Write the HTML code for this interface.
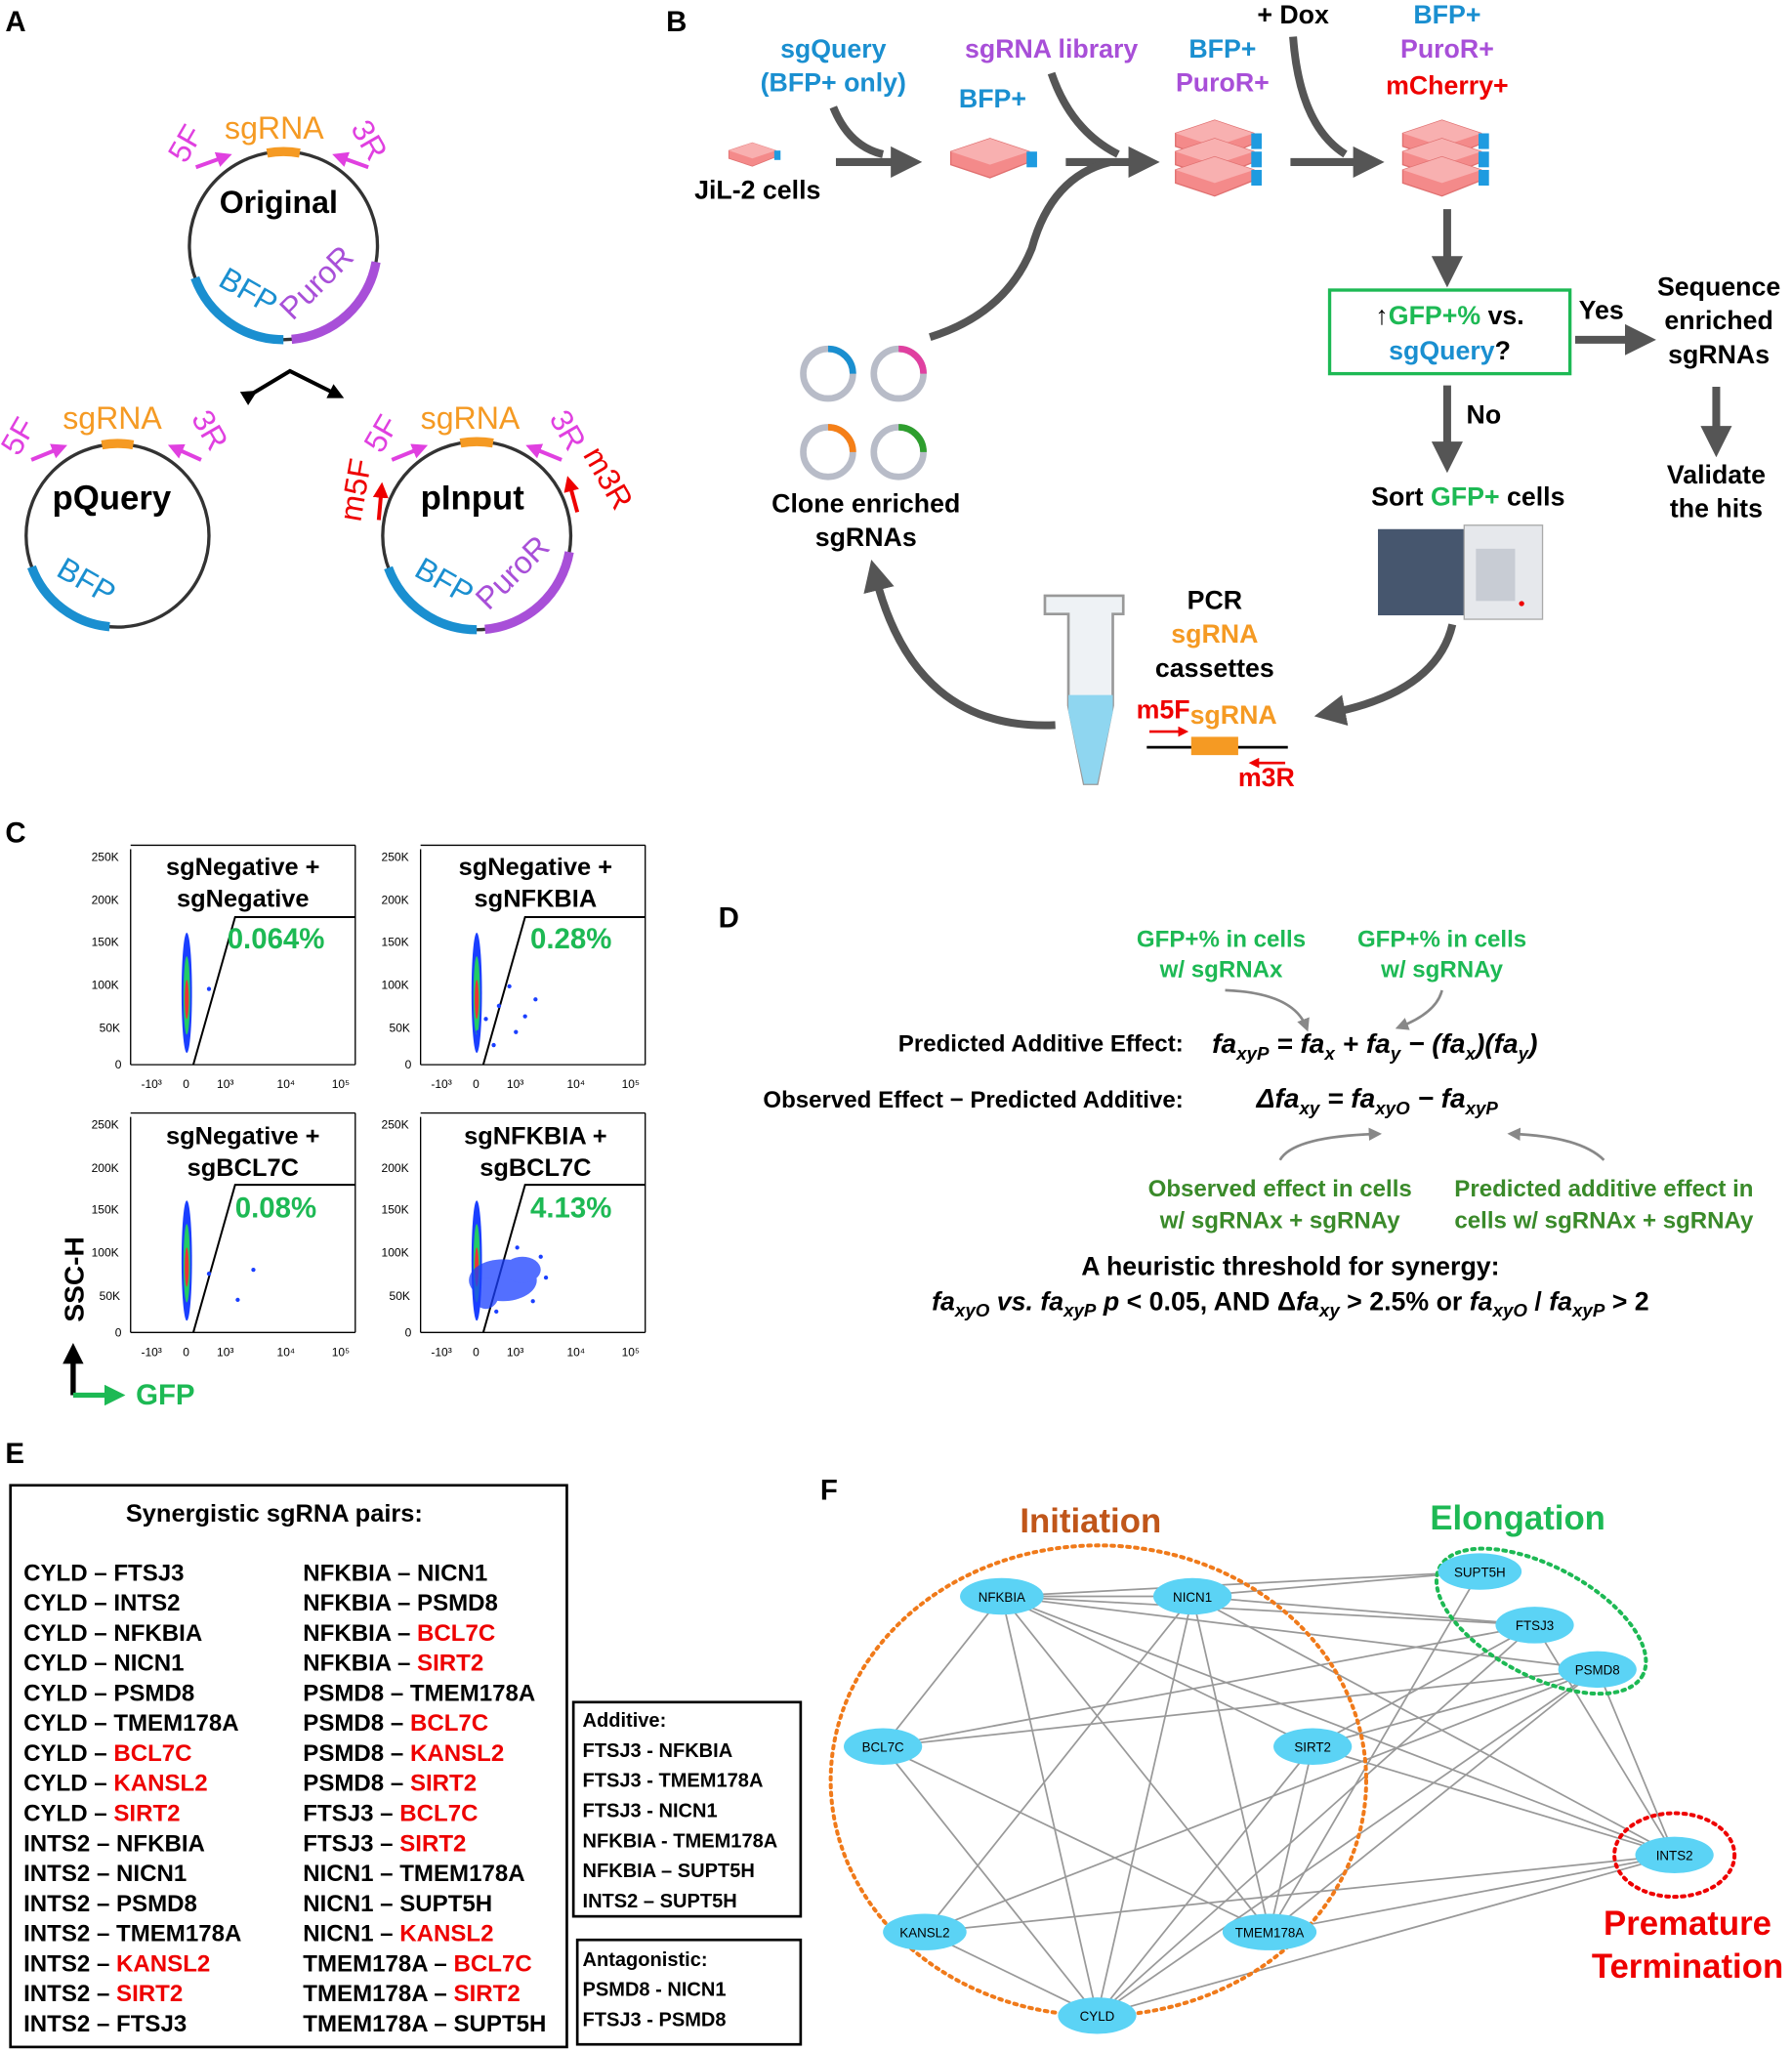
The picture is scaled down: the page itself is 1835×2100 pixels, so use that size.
<!DOCTYPE html>
<html><head><meta charset="utf-8"><style>
html,body{margin:0;padding:0;background:#fff}
svg{display:block}
text{font-family:"Liberation Sans",sans-serif;font-weight:bold}
</style></head><body>
<svg width="1835" height="2100" viewBox="0 0 1372 1570" xmlns="http://www.w3.org/2000/svg">
<defs>
<marker id="ag" markerWidth="4" markerHeight="4" refX="2" refY="2" orient="auto" markerUnits="strokeWidth"><path d="M0,0 L4,2 L0,4 z" fill="#555"/></marker>
<marker id="ak" markerWidth="4" markerHeight="4" refX="2" refY="2" orient="auto" markerUnits="strokeWidth"><path d="M0,0 L4,2 L0,4 z" fill="#000"/></marker>
<marker id="am" markerWidth="4" markerHeight="4" refX="2" refY="2" orient="auto" markerUnits="strokeWidth"><path d="M0,0 L4,2 L0,4 z" fill="#e040e0"/></marker>
<marker id="ar" markerWidth="4" markerHeight="4" refX="2" refY="2" orient="auto" markerUnits="strokeWidth"><path d="M0,0 L4,2 L0,4 z" fill="#e00"/></marker>
<marker id="agy" markerWidth="5" markerHeight="5" refX="3" refY="2.5" orient="auto" markerUnits="strokeWidth"><path d="M0,0 L5,2.5 L0,5 z" fill="#888"/></marker>
<marker id="agr" markerWidth="4" markerHeight="4" refX="2" refY="2" orient="auto" markerUnits="strokeWidth"><path d="M0,0 L4,2 L0,4 z" fill="#1db954"/></marker>
<g id="flask"><path d="M0,12 L30,2 L60,12 L60,20 L30,32 L0,22 z" fill="#f48a8a" stroke="#e07070" stroke-width="1"/><path d="M0,12 L30,2 L60,12 L30,22 z" fill="#f8b0b0"/><rect x="58" y="12" width="8" height="12" fill="#1e9be0"/></g>
<g id="flask3"><use href="#flask" y="0"/><use href="#flask" y="14"/><use href="#flask" y="28"/></g>
</defs>

<g font-size="22" fill="#000">
<text x="4" y="24">A</text><text x="510" y="24">B</text><text x="4" y="645">C</text>
<text x="550" y="710">D</text><text x="4" y="1120">E</text><text x="628" y="1148">F</text>
</g>

<!-- PANEL A -->
<g fill="none" stroke-width="2.5">
<circle cx="217" cy="188" r="72" stroke="#333"/>
<path d="M149.3,212.6 A72,72 0 0 0 217,260" stroke="#1a8fd0" stroke-width="7"/>
<path d="M223.3,259.7 A72,72 0 0 0 287.9,200.5" stroke="#a84fd8" stroke-width="7"/>
<path d="M204.5,117.1 A72,72 0 0 1 229.5,117.1" stroke="#f59a23" stroke-width="7"/>
<circle cx="90" cy="410" r="70" stroke="#333"/>
<path d="M24.2,433.9 A70,70 0 0 0 83.9,479.7" stroke="#1a8fd0" stroke-width="7"/>
<path d="M78,340.5 A70,70 0 0 1 102,340.5" stroke="#f59a23" stroke-width="7"/>
<circle cx="365" cy="410" r="72" stroke="#333"/>
<path d="M297.3,434.6 A72,72 0 0 0 365,482" stroke="#1a8fd0" stroke-width="7"/>
<path d="M371.3,481.7 A72,72 0 0 0 435.9,422.5" stroke="#a84fd8" stroke-width="7"/>
<path d="M352.5,339.1 A72,72 0 0 1 377.5,339.1" stroke="#f59a23" stroke-width="7"/>
</g>
<g stroke="#e040e0" stroke-width="3" fill="none">
<line x1="150" y1="128" x2="172" y2="120" marker-end="url(#am)"/>
<line x1="282" y1="128" x2="260" y2="120" marker-end="url(#am)"/>
<line x1="24" y1="352" x2="46" y2="343" marker-end="url(#am)"/>
<line x1="154" y1="352" x2="134" y2="343" marker-end="url(#am)"/>
<line x1="300" y1="352" x2="322" y2="343" marker-end="url(#am)"/>
<line x1="430" y1="352" x2="408" y2="343" marker-end="url(#am)"/>
</g>
<g stroke="#e00" stroke-width="3"><line x1="290" y1="398" x2="292" y2="375" marker-end="url(#ar)"/><line x1="442" y1="392" x2="436" y2="370" marker-end="url(#ar)"/></g>
<g font-size="24">
<text x="172" y="106" fill="#f59a23" style="font-weight:normal">sgRNA</text>
<text x="48" y="328" fill="#f59a23" style="font-weight:normal">sgRNA</text>
<text x="322" y="328" fill="#f59a23" style="font-weight:normal">sgRNA</text>
<text transform="translate(142,126) rotate(-60)" fill="#e040e0" style="font-weight:normal">5F</text>
<text transform="translate(268,98) rotate(60)" fill="#e040e0" style="font-weight:normal">3R</text>
<text transform="translate(14,350) rotate(-60)" fill="#e040e0" style="font-weight:normal">5F</text>
<text transform="translate(146,320) rotate(60)" fill="#e040e0" style="font-weight:normal">3R</text>
<text transform="translate(292,348) rotate(-60)" fill="#e040e0" style="font-weight:normal">5F</text>
<text transform="translate(420,320) rotate(60)" fill="#e040e0" style="font-weight:normal">3R</text>
<text transform="translate(276,400) rotate(-80)" fill="#e00" style="font-weight:normal">m5F</text>
<text transform="translate(446,348) rotate(60)" fill="#e00" style="font-weight:normal">m3R</text>
<text transform="translate(166,218) rotate(30)" fill="#1a8fd0" style="font-weight:normal">BFP</text>
<text transform="translate(224,246) rotate(-45)" fill="#a84fd8" style="font-weight:normal">PuroR</text>
<text transform="translate(42,440) rotate(30)" fill="#1a8fd0" style="font-weight:normal">BFP</text>
<text transform="translate(316,440) rotate(30)" fill="#1a8fd0" style="font-weight:normal">BFP</text>
<text transform="translate(374,468) rotate(-45)" fill="#a84fd8" style="font-weight:normal">PuroR</text>
</g>
<text x="168" y="163" font-size="24">Original</text>
<text x="40" y="390" font-size="26">pQuery</text>
<text x="322" y="390" font-size="26">pInput</text>
<path d="M192,302 L222,284 L258,302" fill="none" stroke="#000" stroke-width="3" marker-start="url(#ak)" marker-end="url(#ak)"/>

<!-- PANEL B -->
<g font-size="20" text-anchor="middle">
<text x="580" y="152">JiL-2 cells</text>
<text x="638" y="44" fill="#1a8fd0">sgQuery</text><text x="638" y="70" fill="#1a8fd0">(BFP+ only)</text>
<text x="760" y="82" fill="#1a8fd0">BFP+</text>
<text x="805" y="44" fill="#a84fd8">sgRNA library</text>
<text x="936" y="44" fill="#1a8fd0">BFP+</text><text x="936" y="70" fill="#a84fd8">PuroR+</text>
<text x="990" y="18">+ Dox</text>
<text x="1108" y="18" fill="#1a8fd0">BFP+</text><text x="1108" y="44" fill="#a84fd8">PuroR+</text><text x="1108" y="72" fill="#e00">mCherry+</text>
<text x="1316" y="226">Sequence</text><text x="1316" y="252">enriched</text><text x="1316" y="278">sgRNAs</text>
<text x="1226" y="244">Yes</text>
<text x="1136" y="324">No</text>
<text x="1314" y="370">Validate</text><text x="1314" y="396">the hits</text>
<text x="1124" y="387">Sort <tspan fill="#1db954">GFP+</tspan> cells</text>
<text x="663" y="392">Clone enriched</text><text x="663" y="418">sgRNAs</text>
<text x="930" y="466">PCR</text><text x="930" y="492" fill="#f59a23">sgRNA</text><text x="930" y="518">cassettes</text>
</g>
<use href="#flask" transform="translate(558,108) scale(0.6)"/>
<use href="#flask" x="728" y="104"/>
<use href="#flask3" x="900" y="90"/>
<use href="#flask3" x="1074" y="90"/>
<g stroke="#555" stroke-width="6" fill="none">
<line x1="640" y1="124" x2="694" y2="124" marker-end="url(#ag)"/>
<path d="M638,82 Q650,112 676,118"/>
<line x1="816" y1="124" x2="876" y2="124" marker-end="url(#ag)"/>
<path d="M805,56 Q820,100 856,118"/>
<line x1="988" y1="124" x2="1048" y2="124" marker-end="url(#ag)"/>
<path d="M990,28 Q995,96 1030,118"/>
<path d="M712,258 Q770,240 790,190 Q805,135 850,124"/>
<line x1="1108" y1="160" x2="1108" y2="208" marker-end="url(#ag)"/>
<line x1="1206" y1="260" x2="1256" y2="260" marker-end="url(#ag)"/>
<line x1="1108" y1="295" x2="1108" y2="350" marker-end="url(#ag)"/>
<line x1="1314" y1="296" x2="1314" y2="338" marker-end="url(#ag)"/>
<path d="M1112,478 Q1100,530 1018,546" marker-end="url(#ag)"/>
<path d="M808,555 Q700,560 670,440" marker-end="url(#ag)"/>
</g>
<rect x="1018" y="222" width="184" height="64" fill="#fff" stroke="#1db954" stroke-width="2.5"/>
<text x="1110" y="248" font-size="20" text-anchor="middle">↑<tspan fill="#1db954">GFP+%</tspan> vs.</text>
<text x="1110" y="275" font-size="20" text-anchor="middle" fill="#1a8fd0">sgQuery<tspan fill="#000">?</tspan></text>
<g fill="none" stroke-width="5">
<circle cx="634" cy="286" r="19" stroke="#b8bcc8"/><path d="M634,267 A19,19 0 0 1 653,286" stroke="#1a8fd0"/>
<circle cx="688" cy="286" r="19" stroke="#b8bcc8"/><path d="M688,267 A19,19 0 0 1 707,286" stroke="#e040a0"/>
<circle cx="634" cy="346" r="19" stroke="#b8bcc8"/><path d="M634,327 A19,19 0 0 1 653,346" stroke="#f57f17"/>
<circle cx="688" cy="346" r="19" stroke="#b8bcc8"/><path d="M688,327 A19,19 0 0 1 707,346" stroke="#2e9e2e"/>
</g>
<rect x="1055" y="405" width="66" height="66" fill="#46566e"/>
<rect x="1121" y="402" width="60" height="72" fill="#e6e8ec" stroke="#aaa"/>
<rect x="1130" y="420" width="30" height="40" fill="#c8ccd4"/>
<circle cx="1165" cy="462" r="2" fill="#e00"/>
<path d="M800,456 L860,456 L860,470 L852,470 L852,540 L840,600 L830,600 L818,540 L818,470 L800,470 z" fill="#eef2f5" stroke="#999" stroke-width="2"/>
<path d="M818,532 L852,532 L852,545 L840,600 L830,600 L818,545 z" fill="#8fd6f0"/>
<line x1="878" y1="572" x2="986" y2="572" stroke="#000" stroke-width="2"/>
<rect x="912" y="564" width="36" height="14" fill="#f59a23"/>
<text x="870" y="550" font-size="20" fill="#e00">m5F<tspan fill="#f59a23" dy="4">sgRNA</tspan></text>
<text x="948" y="602" font-size="20" fill="#e00">m3R</text>
<line x1="880" y1="560" x2="906" y2="560" stroke="#e00" stroke-width="2" marker-end="url(#ar)"/>
<line x1="984" y1="584" x2="960" y2="584" stroke="#e00" stroke-width="2" marker-end="url(#ar)"/>

<!-- PANEL C -->
<g font-size="9" fill="#000">
<g id="p1">
<line x1="100" y1="650" x2="100" y2="815" stroke="#000"/><line x1="100" y1="815" x2="272" y2="815" stroke="#000"/>
<line x1="272" y1="647" x2="272" y2="815" stroke="#000"/><line x1="100" y1="647" x2="272" y2="647" stroke="#000"/>
<text x="70" y="659" style="font-weight:normal">250K</text><text x="70" y="692" style="font-weight:normal">200K</text><text x="70" y="724" style="font-weight:normal">150K</text><text x="70" y="757" style="font-weight:normal">100K</text><text x="76" y="790" style="font-weight:normal">50K</text><text x="88" y="818" style="font-weight:normal">0</text>
<text x="108" y="833" style="font-weight:normal">-10³</text><text x="140" y="833" style="font-weight:normal">0</text><text x="166" y="833" style="font-weight:normal">10³</text><text x="212" y="833" style="font-weight:normal">10⁴</text><text x="254" y="833" style="font-weight:normal">10⁵</text>
<polyline points="148,815 180,702 272,702" fill="none" stroke="#000" stroke-width="1.5"/>
<ellipse cx="143" cy="760" rx="4" ry="46" fill="#1a3fff"/>
<ellipse cx="143" cy="762" rx="2.5" ry="30" fill="#22cc66"/>
<ellipse cx="143" cy="765" rx="1.5" ry="15" fill="#e33"/>
</g>
<use href="#p1" x="222"/>
<use href="#p1" y="205"/>
<use href="#p1" x="222" y="205"/>
</g>
<g fill="#1a3fff"><circle cx="160" cy="757" r="1.6"/>
<circle cx="372" cy="780" r="1.6"/><circle cx="382" cy="770" r="1.6"/><circle cx="395" cy="790" r="1.6"/><circle cx="410" cy="765" r="1.6"/><circle cx="390" cy="755" r="1.6"/><circle cx="378" cy="800" r="1.6"/><circle cx="366" cy="790" r="1.6"/><circle cx="402" cy="778" r="1.6"/>
<circle cx="160" cy="975" r="1.6"/><circle cx="182" cy="995" r="1.6"/><circle cx="194" cy="972" r="1.6"/>
</g>
<g fill="#1a3fff" opacity="0.75">
<ellipse cx="385" cy="980" rx="26" ry="16"/>
<ellipse cx="400" cy="972" rx="14" ry="10"/>
<ellipse cx="372" cy="990" rx="10" ry="12"/>
</g>
<g fill="#1a3fff"><circle cx="414" cy="962" r="1.6"/><circle cx="408" cy="996" r="1.6"/><circle cx="380" cy="1004" r="1.6"/><circle cx="418" cy="978" r="1.6"/><circle cx="396" cy="955" r="1.6"/></g>
<g font-size="19" text-anchor="middle">
<text x="186" y="670">sgNegative +</text><text x="186" y="694">sgNegative</text>
<text x="410" y="670">sgNegative +</text><text x="410" y="694">sgNFKBIA</text>
<text x="186" y="876">sgNegative +</text><text x="186" y="900">sgBCL7C</text>
<text x="410" y="876">sgNFKBIA +</text><text x="410" y="900">sgBCL7C</text>
</g>
<g font-size="22" fill="#1db954">
<text x="174" y="726">0.064%</text><text x="406" y="726">0.28%</text>
<text x="180" y="932">0.08%</text><text x="406" y="932">4.13%</text>
</g>
<text transform="translate(64,1012) rotate(-90)" font-size="21">SSC-H</text>
<line x1="56" y1="1068" x2="56" y2="1036" stroke="#000" stroke-width="4" marker-end="url(#ak)"/>
<line x1="56" y1="1068" x2="88" y2="1068" stroke="#1db954" stroke-width="4" marker-end="url(#agr)"/>
<text x="104" y="1075" font-size="22" fill="#1db954">GFP</text>

<!-- PANEL D -->
<g font-size="18" text-anchor="middle" fill="#1db954">
<text x="935" y="725">GFP+% in cells</text><text x="935" y="748">w/ sgRNAx</text>
<text x="1104" y="725">GFP+% in cells</text><text x="1104" y="748">w/ sgRNAy</text>
</g>
<g font-size="18" text-anchor="middle" fill="#3a8a2a">
<text x="980" y="916">Observed effect in cells</text><text x="980" y="940">w/ sgRNAx + sgRNAy</text>
<text x="1228" y="916">Predicted additive effect in</text><text x="1228" y="940">cells w/ sgRNAx + sgRNAy</text>
</g>
<g fill="none" stroke="#888" stroke-width="2">
<path d="M938,758 Q990,760 1000,786" marker-end="url(#agy)"/>
<path d="M1104,758 Q1100,775 1072,786" marker-end="url(#agy)"/>
<path d="M980,888 Q990,870 1054,868" marker-end="url(#agy)"/>
<path d="M1228,888 Q1210,870 1158,868" marker-end="url(#agy)"/>
</g>
<text x="906" y="805" font-size="18" text-anchor="end">Predicted Additive Effect:</text>
<text x="906" y="848" font-size="18" text-anchor="end">Observed Effect − Predicted Additive:</text>
<text x="928" y="806" font-size="21" font-style="italic">fa<tspan font-size="14" dy="5">xyP</tspan><tspan dy="-5"> = fa</tspan><tspan font-size="14" dy="5">x</tspan><tspan dy="-5"> + fa</tspan><tspan font-size="14" dy="5">y</tspan><tspan dy="-5"> − (fa</tspan><tspan font-size="14" dy="5">x</tspan><tspan dy="-5">)(fa</tspan><tspan font-size="14" dy="5">y</tspan><tspan dy="-5">)</tspan></text>
<text x="962" y="848" font-size="21" font-style="italic">Δfa<tspan font-size="14" dy="5">xy</tspan><tspan dy="-5"> = fa</tspan><tspan font-size="14" dy="5">xyO</tspan><tspan dy="-5"> − fa</tspan><tspan font-size="14" dy="5">xyP</tspan></text>
<text x="988" y="976" font-size="20" text-anchor="middle">A heuristic threshold for synergy:</text>
<text x="988" y="1003" font-size="20" text-anchor="middle"><tspan font-style="italic">fa</tspan><tspan font-size="14" dy="5" font-style="italic">xyO</tspan><tspan dy="-5" font-style="italic"> vs. fa</tspan><tspan font-size="14" dy="5" font-style="italic">xyP</tspan><tspan dy="-5"> </tspan><tspan font-style="italic">p</tspan> &lt; 0.05, AND Δ<tspan font-style="italic">fa</tspan><tspan font-size="14" dy="5" font-style="italic">xy</tspan><tspan dy="-5"> &gt; 2.5% or </tspan><tspan font-style="italic">fa</tspan><tspan font-size="14" dy="5" font-style="italic">xyO</tspan><tspan dy="-5"> / </tspan><tspan font-style="italic">fa</tspan><tspan font-size="14" dy="5" font-style="italic">xyP</tspan><tspan dy="-5"> &gt; 2</tspan></text>

<!-- PANEL E -->
<rect x="8" y="1137" width="426" height="430" fill="none" stroke="#000" stroke-width="2"/>
<rect x="439" y="1303" width="174" height="164" fill="none" stroke="#000" stroke-width="2"/>
<rect x="442" y="1485" width="171" height="80" fill="none" stroke="#000" stroke-width="2"/>
<text x="210" y="1165" font-size="19" text-anchor="middle">Synergistic sgRNA pairs:</text>
<g font-size="18">
<text x="18" y="1210">CYLD – FTSJ3</text>
<text x="18" y="1233">CYLD – INTS2</text>
<text x="18" y="1256">CYLD – NFKBIA</text>
<text x="18" y="1279">CYLD – NICN1</text>
<text x="18" y="1302">CYLD – PSMD8</text>
<text x="18" y="1325">CYLD – TMEM178A</text>
<text x="18" y="1348">CYLD – <tspan fill="#e00">BCL7C</tspan></text>
<text x="18" y="1371">CYLD – <tspan fill="#e00">KANSL2</tspan></text>
<text x="18" y="1394">CYLD – <tspan fill="#e00">SIRT2</tspan></text>
<text x="18" y="1417">INTS2 – NFKBIA</text>
<text x="18" y="1440">INTS2 – NICN1</text>
<text x="18" y="1463">INTS2 – PSMD8</text>
<text x="18" y="1486">INTS2 – TMEM178A</text>
<text x="18" y="1509">INTS2 – <tspan fill="#e00">KANSL2</tspan></text>
<text x="18" y="1532">INTS2 – <tspan fill="#e00">SIRT2</tspan></text>
<text x="18" y="1555">INTS2 – FTSJ3</text>
<text x="232" y="1210">NFKBIA – NICN1</text>
<text x="232" y="1233">NFKBIA – PSMD8</text>
<text x="232" y="1256">NFKBIA – <tspan fill="#e00">BCL7C</tspan></text>
<text x="232" y="1279">NFKBIA – <tspan fill="#e00">SIRT2</tspan></text>
<text x="232" y="1302">PSMD8 – TMEM178A</text>
<text x="232" y="1325">PSMD8 – <tspan fill="#e00">BCL7C</tspan></text>
<text x="232" y="1348">PSMD8 – <tspan fill="#e00">KANSL2</tspan></text>
<text x="232" y="1371">PSMD8 – <tspan fill="#e00">SIRT2</tspan></text>
<text x="232" y="1394">FTSJ3 – <tspan fill="#e00">BCL7C</tspan></text>
<text x="232" y="1417">FTSJ3 – <tspan fill="#e00">SIRT2</tspan></text>
<text x="232" y="1440">NICN1 – TMEM178A</text>
<text x="232" y="1463">NICN1 – SUPT5H</text>
<text x="232" y="1486">NICN1 – <tspan fill="#e00">KANSL2</tspan></text>
<text x="232" y="1509">TMEM178A – <tspan fill="#e00">BCL7C</tspan></text>
<text x="232" y="1532">TMEM178A – <tspan fill="#e00">SIRT2</tspan></text>
<text x="232" y="1555">TMEM178A – SUPT5H</text>
</g>
<g font-size="15">
<text x="446" y="1322">Additive:</text>
<text x="446" y="1345">FTSJ3 - NFKBIA</text>
<text x="446" y="1368">FTSJ3 - TMEM178A</text>
<text x="446" y="1391">FTSJ3 - NICN1</text>
<text x="446" y="1414">NFKBIA - TMEM178A</text>
<text x="446" y="1437">NFKBIA – SUPT5H</text>
<text x="446" y="1460">INTS2 – SUPT5H</text>
<text x="446" y="1505">Antagonistic:</text>
<text x="446" y="1528">PSMD8 - NICN1</text>
<text x="446" y="1551">FTSJ3 - PSMD8</text>
</g>

<!-- PANEL F -->
<g stroke="#999" stroke-width="1.3">
<line x1="767" y1="1222" x2="913" y2="1222"/><line x1="767" y1="1222" x2="1223" y2="1278"/><line x1="767" y1="1222" x2="676" y2="1337"/><line x1="767" y1="1222" x2="1005" y2="1337"/><line x1="767" y1="1222" x2="1282" y2="1420"/><line x1="767" y1="1222" x2="840" y2="1543"/><line x1="767" y1="1222" x2="972" y2="1479"/><line x1="767" y1="1222" x2="1133" y2="1203"/><line x1="767" y1="1222" x2="1175" y2="1244"/>
<line x1="913" y1="1222" x2="1133" y2="1203"/><line x1="913" y1="1222" x2="708" y2="1479"/><line x1="913" y1="1222" x2="972" y2="1479"/><line x1="913" y1="1222" x2="840" y2="1543"/><line x1="913" y1="1222" x2="1282" y2="1420"/><line x1="913" y1="1222" x2="1175" y2="1244"/>
<line x1="676" y1="1337" x2="1223" y2="1278"/><line x1="676" y1="1337" x2="1175" y2="1244"/><line x1="676" y1="1337" x2="972" y2="1479"/><line x1="676" y1="1337" x2="840" y2="1543"/>
<line x1="1005" y1="1337" x2="1175" y2="1244"/><line x1="1005" y1="1337" x2="1223" y2="1278"/><line x1="1005" y1="1337" x2="1282" y2="1420"/><line x1="1005" y1="1337" x2="972" y2="1479"/><line x1="1005" y1="1337" x2="840" y2="1543"/>
<line x1="708" y1="1479" x2="1223" y2="1278"/><line x1="708" y1="1479" x2="1282" y2="1420"/><line x1="708" y1="1479" x2="840" y2="1543"/>
<line x1="972" y1="1479" x2="1133" y2="1203"/><line x1="972" y1="1479" x2="1223" y2="1278"/><line x1="972" y1="1479" x2="1282" y2="1420"/>
<line x1="840" y1="1543" x2="1175" y2="1244"/><line x1="840" y1="1543" x2="1223" y2="1278"/><line x1="840" y1="1543" x2="1282" y2="1420"/>
<line x1="1223" y1="1278" x2="1282" y2="1420"/><line x1="1175" y1="1244" x2="1282" y2="1420"/>
</g>
<g fill="none" stroke-width="3" stroke-dasharray="2,4" stroke-linecap="round">
<ellipse cx="841" cy="1363" rx="205" ry="180" stroke="#f07a1a"/>
<ellipse cx="1180" cy="1241" rx="88" ry="42" transform="rotate(28 1180 1241)" stroke="#1db954"/>
<ellipse cx="1282" cy="1420" rx="46" ry="32" stroke="#e00"/>
</g>
<g fill="#5bd3f5">
<ellipse cx="767" cy="1222" rx="32" ry="14"/><ellipse cx="913" cy="1222" rx="30" ry="14"/><ellipse cx="1133" cy="1203" rx="32" ry="14"/><ellipse cx="1175" cy="1244" rx="30" ry="14"/><ellipse cx="1223" cy="1278" rx="30" ry="14"/><ellipse cx="676" cy="1337" rx="30" ry="14"/><ellipse cx="1005" cy="1337" rx="30" ry="14"/><ellipse cx="1282" cy="1420" rx="30" ry="14"/><ellipse cx="708" cy="1479" rx="32" ry="14"/><ellipse cx="972" cy="1479" rx="36" ry="14"/><ellipse cx="840" cy="1543" rx="30" ry="14"/>
</g>
<g font-size="10" text-anchor="middle">
<text x="767" y="1226" style="font-weight:normal">NFKBIA</text><text x="913" y="1226" style="font-weight:normal">NICN1</text><text x="1133" y="1207" style="font-weight:normal">SUPT5H</text><text x="1175" y="1248" style="font-weight:normal">FTSJ3</text><text x="1223" y="1282" style="font-weight:normal">PSMD8</text><text x="676" y="1341" style="font-weight:normal">BCL7C</text><text x="1005" y="1341" style="font-weight:normal">SIRT2</text><text x="1282" y="1424" style="font-weight:normal">INTS2</text><text x="708" y="1483" style="font-weight:normal">KANSL2</text><text x="972" y="1483" style="font-weight:normal">TMEM178A</text><text x="840" y="1547" style="font-weight:normal">CYLD</text>
</g>
<text x="835" y="1173" font-size="26" fill="#c0561a" text-anchor="middle">Initiation</text>
<text x="1162" y="1171" font-size="26" fill="#1db954" text-anchor="middle">Elongation</text>
<text x="1292" y="1481" font-size="26" fill="#e00" text-anchor="middle">Premature</text>
<text x="1292" y="1514" font-size="26" fill="#e00" text-anchor="middle">Termination</text>
</svg>
</body></html>
